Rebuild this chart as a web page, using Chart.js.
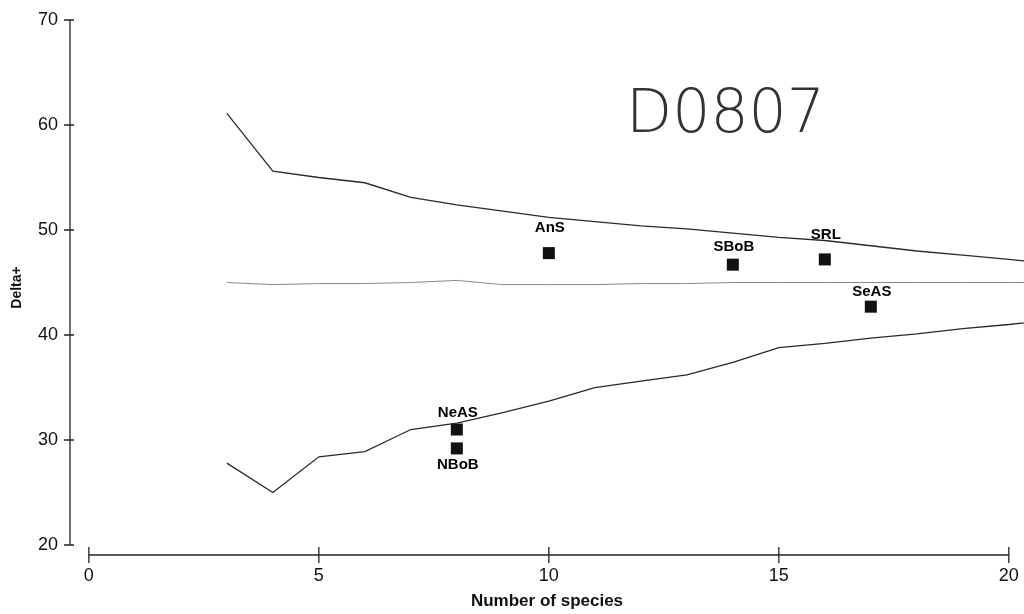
<!DOCTYPE html>
<html>
<head>
<meta charset="utf-8">
<script src="https://cdn.jsdelivr.net/npm/chart.js@4/dist/chart.umd.min.js"></script>
<style>
  html, body { margin: 0; padding: 0; background: #fff; }
  #wrap { width: 1024px; height: 614px; position: relative; }
</style>
</head>
<body>
<div id="wrap"><canvas id="deltaChart"></canvas></div>
<script>
    // Number of species (x) for the funnel lines
    const speciesCounts = [3, 4, 5, 6, 7, 8, 9, 10, 11, 12, 13, 14, 15, 16, 17, 18, 19, 20, 21];
    // Upper 95% limit, mean and lower 95% limit of Delta+
    const upperLimit = [61.1, 55.6, 55.0, 54.5, 53.1, 52.4, 51.8, 51.2, 50.8, 50.4, 50.1, 49.7, 49.3, 49.0, 48.5, 48.0, 47.6, 47.2, 46.8];
    const meanDelta  = [45.0, 44.8, 44.9, 44.9, 45.0, 45.2, 44.8, 44.8, 44.8, 44.9, 44.9, 45.0, 45.0, 45.0, 45.0, 45.0, 45.0, 45.0, 45.0];
    const lowerLimit = [27.8, 25.0, 28.4, 28.9, 31.0, 31.6, 32.6, 33.7, 35.0, 35.6, 36.2, 37.4, 38.8, 39.2, 39.7, 40.1, 40.6, 41.0, 41.5];

    // Sampled regions
    const regionNames   = ['AnS', 'SBoB', 'SRL', 'SeAS', 'NeAS', 'NBoB'];
    const regionSpecies = [10, 14, 16, 17, 8, 8];
    const regionDelta   = [47.8, 46.7, 47.2, 42.7, 31.0, 29.2];

    // Tick labels
    const xTicks = [0, 5, 10, 15, 20];
    const yTicks = [20, 30, 40, 50, 60, 70];

    const toPoints = (xs, ys) => xs.map((x, i) => ({x: x, y: ys[i]}));

    // where each region label sits relative to its square (px)
    const labelShift = {AnS: -25, SBoB: -18, SRL: -25, SeAS: -15, NeAS: -17, NBoB: 16};

    // Axes drawn detached, like the original software does
    const axesPlugin = {
        id: 'axesPlugin',
        afterDraw(chart) {
            const ctx = chart.ctx;
            const xs = chart.scales.x;
            const ys = chart.scales.y;
            const left = chart.chartArea.left;
            const bottom = chart.chartArea.bottom;
            ctx.save();
            ctx.strokeStyle = '#222';
            ctx.lineWidth = 1.3;
            // y axis
            ctx.beginPath();
            ctx.moveTo(left, ys.getPixelForValue(yTicks[yTicks.length - 1]));
            ctx.lineTo(left, ys.getPixelForValue(yTicks[0]));
            yTicks.forEach(v => {
                const py = ys.getPixelForValue(v);
                ctx.moveTo(left - 6, py);
                ctx.lineTo(left + 4, py);
            });
            // x axis
            ctx.moveTo(xs.getPixelForValue(xTicks[0]), bottom);
            ctx.lineTo(xs.getPixelForValue(xTicks[xTicks.length - 1]), bottom);
            xTicks.forEach(v => {
                const px = xs.getPixelForValue(v);
                ctx.moveTo(px, bottom - 8);
                ctx.lineTo(px, bottom + 8);
            });
            ctx.stroke();

            // region labels
            ctx.fillStyle = '#000';
            ctx.font = 'bold 15px "Liberation Sans", Arial, sans-serif';
            ctx.textAlign = 'center';
            ctx.textBaseline = 'middle';
            regionNames.forEach((name, i) => {
                const px = xs.getPixelForValue(regionSpecies[i]);
                const py = ys.getPixelForValue(regionDelta[i]);
                ctx.fillText(name, px + 1, py + labelShift[name]);
            });

            // handwritten note on the scan
            ctx.fillStyle = '#333';
            ctx.font = '200 60px "DejaVu Sans", sans-serif';
            ctx.textAlign = 'left';
            ctx.textBaseline = 'alphabetic';
            ctx.fillText('D0807', 626, 132);
            ctx.restore();
        }
    };

    Chart.defaults.font.family = '"Liberation Sans", Arial, sans-serif';
    Chart.defaults.color = '#111';

    const ctx = document.getElementById('deltaChart').getContext('2d');
    const chart = new Chart(ctx, {
        type: 'scatter',
        data: {
            datasets: [
                {
                    label: 'Upper limit',
                    data: toPoints(speciesCounts, upperLimit),
                    showLine: true,
                    borderColor: '#2a2a2a',
                    borderWidth: 1.3,
                    pointRadius: 0,
                    tension: 0
                },
                {
                    label: 'Mean',
                    data: toPoints(speciesCounts, meanDelta),
                    showLine: true,
                    borderColor: '#8a8a8a',
                    borderWidth: 1,
                    pointRadius: 0,
                    tension: 0
                },
                {
                    label: 'Lower limit',
                    data: toPoints(speciesCounts, lowerLimit),
                    showLine: true,
                    borderColor: '#2a2a2a',
                    borderWidth: 1.3,
                    pointRadius: 0,
                    tension: 0
                },
                {
                    label: 'Regions',
                    data: toPoints(regionSpecies, regionDelta),
                    showLine: false,
                    pointStyle: 'rect',
                    pointRadius: 8.5,
                    backgroundColor: '#111',
                    borderColor: '#111',
                    borderWidth: 0
                }
            ]
        },
        options: {
            responsive: true,
            maintainAspectRatio: false,
            animation: false,
            layout: {
                autoPadding: false,
                padding: {top: 20, right: 0, left: 0, bottom: 0}
            },
            plugins: {
                legend: {display: false},
                tooltip: {enabled: false}
            },
            scales: {
                x: {
                    type: 'linear',
                    min: -0.41,
                    max: 20.33,
                    afterBuildTicks: scale => { scale.ticks = xTicks.map(v => ({value: v})); },
                    afterFit: scale => {
                        scale.height = 59;
                        scale.paddingLeft = 0;
                        scale.paddingRight = 0;
                    },
                    grid: {display: false, drawTicks: false},
                    border: {display: false},
                    ticks: {
                        padding: 10,
                        maxRotation: 0,
                        font: {size: 18}
                    },
                    title: {
                        display: true,
                        text: 'Number of species',
                        font: {size: 17, weight: 'bold'},
                        padding: {top: 0, bottom: 2}
                    }
                },
                y: {
                    type: 'linear',
                    min: 19.05,
                    max: 70,
                    afterBuildTicks: scale => { scale.ticks = yTicks.map(v => ({value: v})); },
                    afterFit: scale => {
                        scale.width = 70;
                        scale.paddingTop = 0;
                        scale.paddingBottom = 0;
                    },
                    grid: {display: false, drawTicks: false},
                    border: {display: false},
                    ticks: {
                        padding: 12,
                        font: {size: 18}
                    },
                    title: {
                        display: true,
                        text: 'Delta+',
                        font: {size: 14, weight: 'bold'},
                        padding: {top: 9, bottom: 0}
                    }
                }
            }
        },
        plugins: [axesPlugin]
    });
</script>
</body>
</html>
